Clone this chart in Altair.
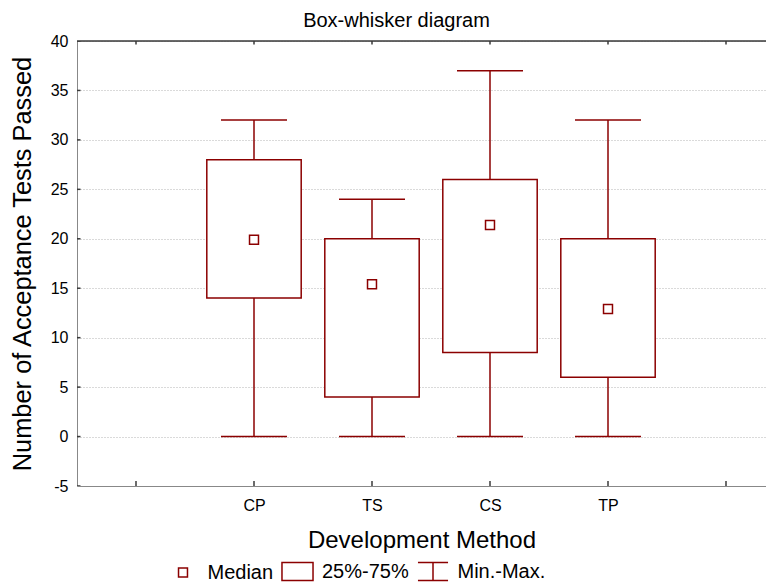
import altair as alt
import pandas as pd

# ---- data ----
methods = ["CP", "TS", "CS", "TP"]
positions = [1, 2, 3, 4]
mins = [0, 0, 0, 0]
q1 = [14, 4, 8.5, 6]
medians = [19.9, 15.4, 21.4, 12.9]
q3 = [28, 20, 26, 20]
maxs = [32, 24, 37, 32]

x_tick_values = [0, 1, 2, 3, 4, 5]
y_tick_values = [-5, 0, 5, 10, 15, 20, 25, 30, 35, 40]
legend_items = ["Median", "25%-75%", "Min.-Max."]

PLOT_W = 689
PLOT_H = 445
X_DOMAIN = [-0.5, -0.5 + PLOT_W / 118.0]
Y_DOMAIN = [-5, 40]

RED = "#8b0000"
AXIS_COLOR = "#3a3a3a"
FONT = "Liberation Sans"

df = pd.DataFrame({
    "method": methods, "pos": positions, "lo": mins, "q1": q1,
    "median": medians, "q3": q3, "hi": maxs,
})
df["kind"] = "Median"

xticks_df = pd.DataFrame({"pos": x_tick_values})
yticks_df = pd.DataFrame({"v": y_tick_values})
frame_df = pd.DataFrame({"top": [Y_DOMAIN[1]]})

label_expr = "".join(
    f"datum.value == {p} ? '{m}' : " for p, m in zip(positions, methods)
) + "''"

xs = alt.Scale(domain=X_DOMAIN, nice=False, zero=False)
ys = alt.Scale(domain=Y_DOMAIN, nice=False, zero=False)

x_axis = alt.Axis(
    orient="bottom", values=x_tick_values, labelExpr=label_expr,
    ticks=False, tickSize=0, grid=False, title="Development Method",
    labelFontSize=16, labelPadding=11.5, labelColor="black",
    titleFontSize=24, titleFontWeight="normal", titleColor="black",
    titlePadding=14.5,
)
y_axis = alt.Axis(
    orient="left", values=y_tick_values, labelExpr="'' + datum.value",
    ticks=False, tickSize=0, grid=True,
    gridDash=[1, 2], gridColor="#b4b4b4", gridWidth=1,
    title="Number of Acceptance Tests Passed",
    labelFontSize=16, labelPadding=9, labelColor="black",
    titleFontSize=25.4, titleFontWeight="normal", titleColor="black",
    titlePadding=15,
)

base = alt.Chart(df)

whiskers = base.mark_rule(color=RED, strokeWidth=1.5).encode(
    x=alt.X("pos:Q", scale=xs, axis=x_axis),
    y=alt.Y("lo:Q", scale=ys, axis=y_axis),
    y2="hi:Q",
)

boxes = base.transform_calculate(
    xl="datum.pos - 0.4", xr="datum.pos + 0.4"
).mark_rect(fill="white", stroke=RED, strokeWidth=1.5).encode(
    x=alt.X("xl:Q", scale=xs),
    x2="xr:Q",
    y=alt.Y("q1:Q", scale=ys),
    y2="q3:Q",
)

caps = base.transform_fold(["lo", "hi"], as_=["stat", "val"]).mark_tick(
    orient="horizontal", size=66, thickness=1.5, color=RED, opacity=1
).encode(
    x=alt.X("pos:Q", scale=xs),
    y=alt.Y("val:Q", scale=ys),
)

sq_path = "M-0.28,-0.28H0.28V0.28H-0.28Z"
box_path = "M-0.97,-0.56H0.97V0.56H-0.97Z"
whisk_path = "M-0.94,-0.56H0.94M0,-0.56V0.56M-0.94,0.56H0.94"

med = base.mark_point(
    filled=False, size=1024, opacity=1, strokeWidth=1.5, color=RED
).encode(
    x=alt.X("pos:Q", scale=xs),
    y=alt.Y("median:Q", scale=ys),
    shape=alt.Shape(
        "kind:N",
        scale=alt.Scale(domain=legend_items, range=[sq_path, box_path, whisk_path]),
        legend=alt.Legend(
            orient="none", legendX=89, legendY=513.5, direction="horizontal",
            columns=3, title=None, labelFontSize=20, labelFont=FONT,
            labelColor="black", symbolSize=1024, symbolStrokeWidth=1.5,
            symbolStrokeColor=RED, symbolFillColor="transparent",
            symbolOpacity=1, labelOffset=7.5, columnPadding=4.5, padding=0,
        ),
    ),
)

# top frame line at the upper end of the y domain
top_frame = alt.Chart(frame_df).mark_rule(color=AXIS_COLOR, strokeWidth=1.5).encode(
    y=alt.Y("top:Q", scale=ys),
)

# inward tick marks on the frame (clipped to the plot area)
bottom_ticks = alt.Chart(xticks_df).mark_tick(
    orient="vertical", size=10, thickness=1.5, color=AXIS_COLOR, opacity=1, clip=True
).encode(
    x=alt.X("pos:Q", scale=xs),
    y=alt.YDatum(Y_DOMAIN[0], scale=ys),
)
top_ticks = alt.Chart(xticks_df).mark_tick(
    orient="vertical", size=7, thickness=1.5, color=AXIS_COLOR, opacity=1, clip=True
).encode(
    x=alt.X("pos:Q", scale=xs),
    y=alt.YDatum(Y_DOMAIN[1], scale=ys),
)
left_ticks = alt.Chart(yticks_df).mark_tick(
    orient="horizontal", size=7, thickness=1.5, color=AXIS_COLOR, opacity=1, clip=True
).encode(
    x=alt.XDatum(X_DOMAIN[0], scale=xs),
    y=alt.Y("v:Q", scale=ys),
)

chart = alt.layer(
    whiskers, boxes, caps, med, top_frame, bottom_ticks, top_ticks, left_ticks
).properties(
    width=PLOT_W,
    height=PLOT_H,
    padding={"left": 69, "top": 33, "right": 0, "bottom": 96},
    autosize=alt.AutoSizeParams(type="none"),
    title=alt.Title(
        "Box-whisker diagram", fontSize=20, font=FONT, fontWeight="normal",
        color="black", anchor="middle", dx=-25, offset=2,
    ),
).configure_view(stroke=None).configure_axis(
    labelFont=FONT, titleFont=FONT, domainColor=AXIS_COLOR, domainWidth=1.5,
).configure(background="white")

chart.save("out.html", embed_options={"renderer": "svg", "actions": False})
